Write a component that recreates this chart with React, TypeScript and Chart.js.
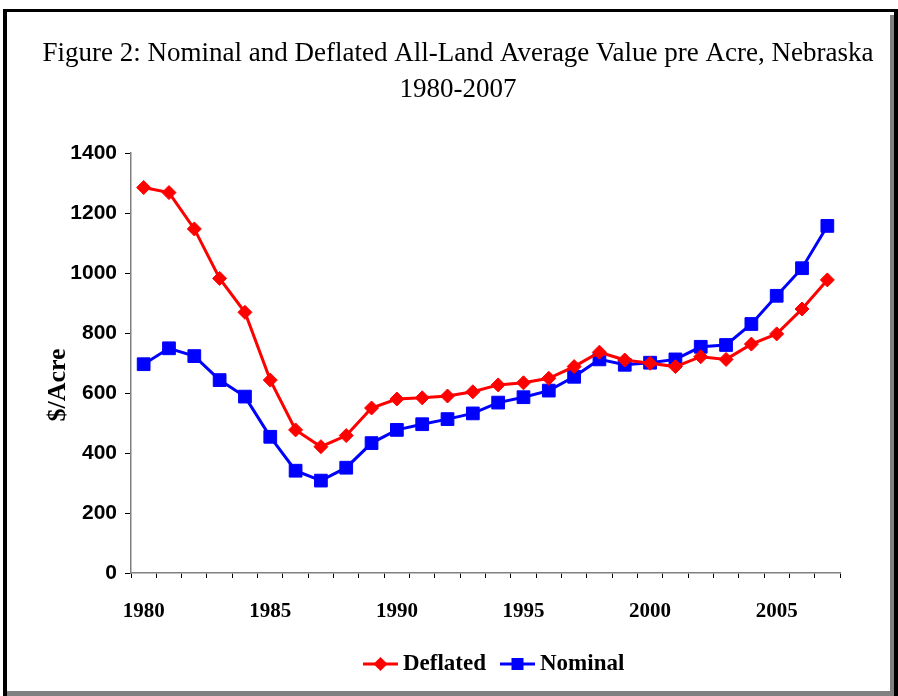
import React, { useEffect, useRef } from 'react';
import { Chart, registerables } from 'chart.js';

Chart.register(...registerables);

const years = [
  '1980', '1981', '1982', '1983', '1984', '1985', '1986', '1987', '1988', '1989',
  '1990', '1991', '1992', '1993', '1994', '1995', '1996', '1997', '1998', '1999',
  '2000', '2001', '2002', '2003', '2004', '2005', '2006', '2007',
];

const deflated = [
  1285, 1268, 1147, 982, 869, 643, 477, 421, 458, 550,
  580, 584, 590, 604, 627, 634, 649, 688, 736, 710,
  699, 688, 721, 712, 763, 797, 880, 977,
];

const nominal = [
  696, 749, 723, 643, 588, 454, 341, 308, 351, 433,
  477, 496, 513, 532, 568, 586, 608, 654, 712, 694,
  701, 712, 754, 760, 830, 924, 1016, 1157,
];

const shownYears = ['1980', '1985', '1990', '1995', '2000', '2005'];

const titleLines = [
  'Figure 2: Nominal and Deflated All-Land Average Value pre Acre, Nebraska',
  '1980-2007',
];
const yAxisTitle = '$/Acre';
const seriesNames = ['Deflated', 'Nominal'];
const seriesColors = ['#FF0000', '#0000FF'];

const SERIF = '"Liberation Serif", "Times New Roman", serif';

const decorPlugin = {
  id: 'decorPlugin',
  afterDraw(chart: any) {
    const ctx = chart.ctx;
    ctx.save();
    // title
    ctx.fillStyle = '#000';
    ctx.textAlign = 'center';
    ctx.textBaseline = 'middle';
    ctx.font = `27px ${SERIF}`;
    ctx.fillText(titleLines[0], 458, 54);
    ctx.fillText(titleLines[1], 458, 90);

    // y axis title
    ctx.save();
    ctx.translate(58, 385);
    ctx.rotate(-Math.PI / 2);
    ctx.font = `bold 26px ${SERIF}`;
    ctx.fillText(yAxisTitle, 0, 0);
    ctx.restore();

    // legend
    const items = [
      { x: 363, textX: 403 },
      { x: 500, textX: 540 },
    ];
    const ly = 664;
    items.forEach((it, i) => {
      const meta = chart.getDatasetMeta(i);
      if (!meta) return;
      const color = seriesColors[i];
      ctx.strokeStyle = color;
      ctx.fillStyle = color;
      ctx.lineWidth = 3;
      ctx.beginPath();
      ctx.moveTo(it.x, ly);
      ctx.lineTo(it.x + 35, ly);
      ctx.stroke();
      const cx = it.x + 17.5;
      ctx.beginPath();
      if (i === 0) {
        ctx.moveTo(cx, ly - 7);
        ctx.lineTo(cx + 7, ly);
        ctx.lineTo(cx, ly + 7);
        ctx.lineTo(cx - 7, ly);
        ctx.closePath();
      } else {
        ctx.rect(cx - 6, ly - 6, 12, 12);
      }
      ctx.fill();
      ctx.fillStyle = '#000';
      ctx.textAlign = 'left';
      ctx.textBaseline = 'middle';
      ctx.font = `bold 23px ${SERIF}`;
      ctx.fillText(seriesNames[i], it.textX, ly);
    });
    ctx.restore();
  },
};

const whiteBg = {
  id: 'whiteBg',
  beforeDraw(chart: any) {
    const ctx = chart.ctx;
    ctx.save();
    ctx.fillStyle = '#fff';
    ctx.fillRect(0, 0, chart.width, chart.height);
    ctx.restore();
  },
};

export default function App() {
  const ref = useRef<HTMLCanvasElement | null>(null);

  useEffect(() => {
    if (!ref.current) return;
    const chart = new Chart(ref.current, {
      type: 'line',
      data: {
        labels: years,
        datasets: [
          {
            label: seriesNames[0],
            data: deflated,
            borderColor: seriesColors[0],
            backgroundColor: seriesColors[0],
            borderWidth: 3,
            pointStyle: 'rectRot',
            pointRadius: 7,
            pointBorderWidth: 1,
            pointBackgroundColor: seriesColors[0],
            pointBorderColor: seriesColors[0],
            tension: 0,
          },
          {
            label: seriesNames[1],
            data: nominal,
            borderColor: seriesColors[1],
            backgroundColor: seriesColors[1],
            borderWidth: 3,
            pointStyle: 'rect',
            pointRadius: 9,
            pointBorderWidth: 1,
            pointBackgroundColor: seriesColors[1],
            pointBorderColor: seriesColors[1],
            tension: 0,
          },
        ],
      },
      options: {
        animation: false,
        responsive: false,
        maintainAspectRatio: false,
        layout: { padding: { left: 0, right: 58, top: 153, bottom: 53 } },
        plugins: {
          tooltip: { enabled: false },
          title: { display: false },
          legend: { display: false },
        },
        scales: {
          x: {
            type: 'category',
            offset: true,
            afterFit: (s: any) => { s.height = 70; },
            grid: {
              offset: true,
              drawOnChartArea: false,
              drawTicks: true,
              tickLength: 5,
              color: '#000',
              lineWidth: 1,
            },
            border: { display: true, color: '#808080', width: 1.5 },
            ticks: {
              autoSkip: false,
              maxRotation: 0,
              padding: 21,
              color: '#000',
              font: { family: SERIF, size: 21, weight: 'bold' },
              callback: (_v: any, i: number) => (shownYears.includes(years[i]) ? years[i] : ''),
            },
          },
          y: {
            min: 0,
            max: 1400,
            afterFit: (s: any) => { s.width = 131; },
            grid: {
              drawOnChartArea: false,
              drawTicks: true,
              tickLength: 6,
              color: '#000',
              lineWidth: 1,
            },
            border: { display: true, color: '#808080', width: 1.5 },
            ticks: {
              stepSize: 200,
              padding: 8,
              color: '#000',
              font: { family: '"Liberation Sans", Arial, sans-serif', size: 21, weight: 'bold' },
              callback: (v: any) => String(v),
            },
          },
        },
      },
      plugins: [whiteBg, decorPlugin],
    });
    return () => chart.destroy();
  }, []);

  return (
    <div style={{ position: 'fixed', left: 0, top: 0, width: 898, height: 696, background: '#fff', overflow: 'hidden' }}>
      <canvas ref={ref} width={898} height={696} style={{ position: 'absolute', left: 0, top: 0, width: 898, height: 696 }} />
      <div style={{ position: 'absolute', left: 3, top: 9, width: 895, height: 3, background: '#000' }} />
      <div style={{ position: 'absolute', left: 3, top: 9, width: 4, height: 687, background: '#000' }} />
      <div style={{ position: 'absolute', left: 894, top: 9, width: 4, height: 687, background: '#000' }} />
      <div style={{ position: 'absolute', left: 890, top: 15, width: 4, height: 681, background: '#808080' }} />
      <div style={{ position: 'absolute', left: 7, top: 691, width: 887, height: 5, background: '#808080' }} />
    </div>
  );
}
